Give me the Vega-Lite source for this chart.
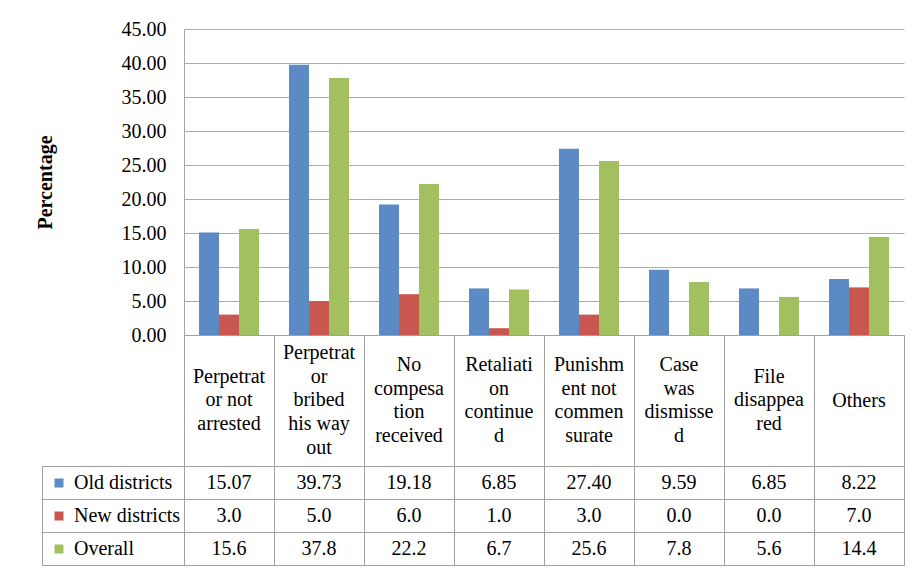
{
  "$schema": "https://vega.github.io/schema/vega-lite/v6.json",
  "padding": {"left": 35, "top": 19, "right": 5, "bottom": 5},
  "background": "white",
  "spacing": 0,
  "bounds": "flush",
  "config": {
    "view": {"stroke": null},
    "font": "Liberation Serif",
    "axis": {"labelFont": "Liberation Serif", "titleFont": "Liberation Serif"},
    "legend": {"labelFont": "Liberation Serif"},
    "text": {"font": "Liberation Serif", "fontSize": 20, "color": "black"}
  },
  "datasets": {
    "main": [
      {"category": "Perpetrator not arrested", "series": "Old districts", "value": 15.07},
      {"category": "Perpetrator bribed his way out", "series": "Old districts", "value": 39.73},
      {"category": "No compesation received", "series": "Old districts", "value": 19.18},
      {"category": "Retaliation continued", "series": "Old districts", "value": 6.85},
      {"category": "Punishment not commensurate", "series": "Old districts", "value": 27.40},
      {"category": "Case was dismissed", "series": "Old districts", "value": 9.59},
      {"category": "File disappeared", "series": "Old districts", "value": 6.85},
      {"category": "Others", "series": "Old districts", "value": 8.22},
      {"category": "Perpetrator not arrested", "series": "New districts", "value": 3.0},
      {"category": "Perpetrator bribed his way out", "series": "New districts", "value": 5.0},
      {"category": "No compesation received", "series": "New districts", "value": 6.0},
      {"category": "Retaliation continued", "series": "New districts", "value": 1.0},
      {"category": "Punishment not commensurate", "series": "New districts", "value": 3.0},
      {"category": "Case was dismissed", "series": "New districts", "value": 0.0},
      {"category": "File disappeared", "series": "New districts", "value": 0.0},
      {"category": "Others", "series": "New districts", "value": 7.0},
      {"category": "Perpetrator not arrested", "series": "Overall", "value": 15.6},
      {"category": "Perpetrator bribed his way out", "series": "Overall", "value": 37.8},
      {"category": "No compesation received", "series": "Overall", "value": 22.2},
      {"category": "Retaliation continued", "series": "Overall", "value": 6.7},
      {"category": "Punishment not commensurate", "series": "Overall", "value": 25.6},
      {"category": "Case was dismissed", "series": "Overall", "value": 7.8},
      {"category": "File disappeared", "series": "Overall", "value": 5.6},
      {"category": "Others", "series": "Overall", "value": 14.4}
    ],
    "cats": [
      {"category": "Perpetrator not arrested", "label": "Perpetrat\nor not\narrested"},
      {"category": "Perpetrator bribed his way out", "label": "Perpetrat\nor\nbribed\nhis way\nout"},
      {"category": "No compesation received", "label": "No\ncompesa\ntion\nreceived"},
      {"category": "Retaliation continued", "label": "Retaliati\non\ncontinue\nd"},
      {"category": "Punishment not commensurate", "label": "Punishm\nent not\ncommen\nsurate"},
      {"category": "Case was dismissed", "label": "Case\nwas\ndismisse\nd"},
      {"category": "File disappeared", "label": "File\ndisappea\nred"},
      {"category": "Others", "label": "Others"}
    ]
  },
  "vconcat": [
    {
      "width": 720,
      "height": 306,
      "data": {"name": "main"},
      "mark": {"type": "bar"},
      "encoding": {
        "x": {
          "field": "category", "type": "nominal",
          "scale": {"domain": ["Perpetrator not arrested", "Perpetrator bribed his way out", "No compesation received", "Retaliation continued", "Punishment not commensurate", "Case was dismissed", "File disappeared", "Others"], "paddingInner": 0, "paddingOuter": 0},
          "axis": null
        },
        "xOffset": {
          "field": "series", "type": "nominal",
          "scale": {"domain": ["Old districts", "New districts", "Overall"], "paddingInner": 0, "paddingOuter": 0.75}
        },
        "y": {
          "field": "value", "type": "quantitative",
          "scale": {"domain": [0, 45], "nice": false, "zero": true},
          "axis": {
            "values": [0, 5, 10, 15, 20, 25, 30, 35, 40, 45],
            "format": ".2f",
            "title": "Percentage",
            "titleFontWeight": "bold",
            "titleFontSize": 20,
            "titleColor": "black",
            "titlePadding": 66,
            "labelFont": "Liberation Serif",
            "labelFontSize": 20,
            "labelColor": "black",
            "labelPadding": 18,
            "ticks": false,
            "domain": true,
            "domainColor": "#A6A6A6",
            "grid": true,
            "gridColor": "#ABABAB",
            "gridOpacity": 1
          }
        },
        "color": {
          "field": "series", "type": "nominal",
          "scale": {"domain": ["Old districts", "New districts", "Overall"], "range": ["#5B8AC5", "#C9564F", "#A2C05F"]},
          "legend": {
            "orient": "none",
            "legendX": -135,
            "legendY": 444,
            "title": null,
            "symbolType": "square",
            "symbolSize": 81,
            "symbolStrokeWidth": 0,
            "symbolOpacity": 1,
            "labelFont": "Liberation Serif",
            "labelFontSize": 20,
            "labelColor": "black",
            "labelOffset": 5,
            "rowPadding": 13,
            "padding": 0
          }
        }
      }
    },
    {
      "width": 720,
      "height": 131,
      "data": {"name": "cats"},
      "view": {"stroke": "#A0A0A0"},
      "encoding": {
        "x": {
          "field": "category", "type": "nominal",
          "scale": {"type": "band", "domain": ["Perpetrator not arrested", "Perpetrator bribed his way out", "No compesation received", "Retaliation continued", "Punishment not commensurate", "Case was dismissed", "File disappeared", "Others"], "paddingInner": 0, "paddingOuter": 0},
          "axis": {"title": null, "labels": false, "ticks": false, "domain": false, "grid": true, "tickBand": "extent", "gridColor": "#A0A0A0", "gridOpacity": 1}
        },
        "text": {"field": "label", "type": "nominal"}
      },
      "layer": [
        {
          "transform": [{"filter": "length(split(datum.label, '\\n')) === 1"}],
          "mark": {"type": "text", "font": "Liberation Serif", "lineBreak": "\n", "lineHeight": 23.8, "fontSize": 20, "baseline": "middle", "dy": 0}
        },
        {
          "transform": [{"filter": "length(split(datum.label, '\\n')) === 3"}],
          "mark": {"type": "text", "font": "Liberation Serif", "lineBreak": "\n", "lineHeight": 23.8, "fontSize": 20, "baseline": "middle", "dy": -23.8}
        },
        {
          "transform": [{"filter": "length(split(datum.label, '\\n')) === 4"}],
          "mark": {"type": "text", "font": "Liberation Serif", "lineBreak": "\n", "lineHeight": 23.8, "fontSize": 20, "baseline": "middle", "dy": -35.7}
        },
        {
          "transform": [{"filter": "length(split(datum.label, '\\n')) === 5"}],
          "mark": {"type": "text", "font": "Liberation Serif", "lineBreak": "\n", "lineHeight": 23.8, "fontSize": 20, "baseline": "middle", "dy": -47.6}
        }
      ]
    },
    {
      "width": 720,
      "height": 99,
      "data": {"name": "main"},
      "view": {"stroke": "#A0A0A0"},
      "mark": {"type": "text", "font": "Liberation Serif", "fontSize": 20, "baseline": "middle"},
      "encoding": {
        "x": {
          "field": "category", "type": "nominal",
          "scale": {"type": "band", "domain": ["Perpetrator not arrested", "Perpetrator bribed his way out", "No compesation received", "Retaliation continued", "Punishment not commensurate", "Case was dismissed", "File disappeared", "Others"], "paddingInner": 0, "paddingOuter": 0},
          "axis": {"title": null, "labels": false, "ticks": false, "domain": false, "grid": true, "tickBand": "extent", "gridColor": "#A0A0A0", "gridOpacity": 1}
        },
        "y": {
          "field": "series", "type": "nominal",
          "scale": {"type": "band", "domain": ["Old districts", "New districts", "Overall"], "paddingInner": 0, "paddingOuter": 0},
          "axis": {"title": null, "labels": false, "tickBand": "extent", "grid": true, "gridColor": "#A0A0A0", "gridOpacity": 1, "offset": 142, "ticks": true, "tickSize": -142, "tickColor": "#A0A0A0", "domain": true, "domainColor": "#A0A0A0"}
        },
        "text": {
          "condition": {"test": "datum.series === 'Old districts'", "field": "value", "type": "quantitative", "format": ".2f"},
          "field": "value", "type": "quantitative", "format": ".1f"
        }
      }
    }
  ]
}
